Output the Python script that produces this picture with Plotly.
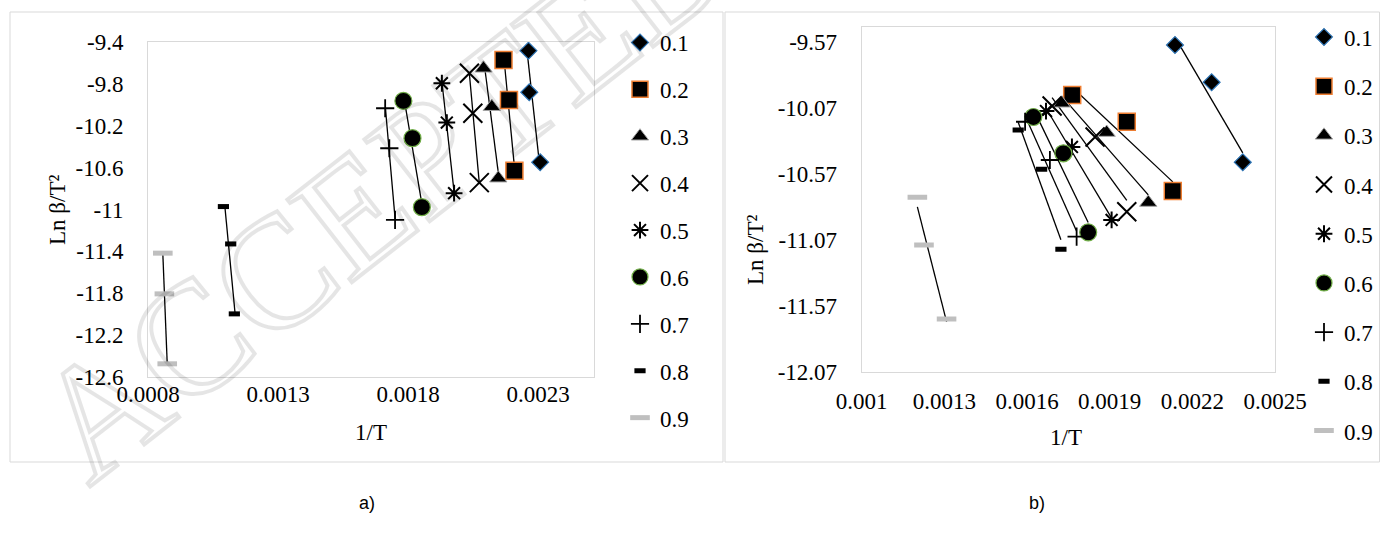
import numpy as np
import plotly.graph_objects as go

W, H = 1380, 535

series_names = ["0.1", "0.2", "0.3", "0.4", "0.5", "0.6", "0.7", "0.8", "0.9"]

# ---------------- Panel a) data ----------------
a_x_01 = [0.002263, 0.002266, 0.002308]
a_y_01 = [-9.483, -9.880, -10.548]
a_x_02 = [0.002167, 0.002188, 0.002209]
a_y_02 = [-9.572, -9.954, -10.629]
a_x_03 = [0.002090, 0.002122, 0.002147]
a_y_03 = [-9.651, -10.018, -10.701]
a_x_04 = [0.002036, 0.002049, 0.002074]
a_y_04 = [-9.699, -10.081, -10.743]
a_x_05 = [0.001930, 0.001949, 0.001977]
a_y_05 = [-9.794, -10.170, -10.844]
a_x_06 = [0.001782, 0.001817, 0.001853]
a_y_06 = [-9.963, -10.319, -10.978]
a_x_07 = [0.001712, 0.001728, 0.001750]
a_y_07 = [-10.033, -10.415, -11.099]
a_x_08 = [0.001090, 0.001118, 0.001132]
a_y_08 = [-10.972, -11.329, -11.997]
a_x_09 = [0.000857, 0.000863, 0.000874]
a_y_09 = [-11.417, -11.806, -12.474]

# ---------------- Panel b) data ----------------
b_x_01 = [0.002137, 0.002270, 0.002383]
b_y_01 = [-9.593, -9.875, -10.481]
b_x_02 = [0.001764, 0.001962, 0.002129]
b_y_02 = [-9.971, -10.174, -10.699]
b_x_03 = [0.001726, 0.001889, 0.002040]
b_y_03 = [-10.034, -10.256, -10.786]
b_x_04 = [0.001691, 0.001847, 0.001962]
b_y_04 = [-10.055, -10.290, -10.856]
b_x_05 = [0.001669, 0.001763, 0.001907]
b_y_05 = [-10.093, -10.365, -10.918]
b_x_06 = [0.001623, 0.001732, 0.001822]
b_y_06 = [-10.138, -10.413, -11.012]
b_x_07 = [0.001593, 0.001683, 0.001780]
b_y_07 = [-10.174, -10.464, -11.045]
b_x_08 = [0.001568, 0.001653, 0.001723]
b_y_08 = [-10.237, -10.534, -11.140]
b_x_09 = [0.001202, 0.001226, 0.001308]
b_y_09 = [-10.747, -11.108, -11.668]

# ---------------- ticks ----------------
a_xtick_vals = [0.0008, 0.0013, 0.0018, 0.0023]
a_xtick_text = ["0.0008", "0.0013", "0.0018", "0.0023"]
a_ytick_vals = [-9.4, -9.8, -10.2, -10.6, -11.0, -11.4, -11.8, -12.2, -12.6]
a_ytick_text = ["-9.4", "-9.8", "-10.2", "-10.6", "-11", "-11.4", "-11.8", "-12.2", "-12.6"]
b_xtick_vals = [0.0010, 0.0013, 0.0016, 0.0019, 0.0022, 0.0025]
b_xtick_text = ["0.001", "0.0013", "0.0016", "0.0019", "0.0022", "0.0025"]
b_ytick_vals = [-9.57, -10.07, -10.57, -11.07, -11.57, -12.07]
b_ytick_text = ["-9.57", "-10.07", "-10.57", "-11.07", "-11.57", "-12.07"]

panel_a = list(zip(series_names,
                   [a_x_01, a_x_02, a_x_03, a_x_04, a_x_05, a_x_06, a_x_07, a_x_08, a_x_09],
                   [a_y_01, a_y_02, a_y_03, a_y_04, a_y_05, a_y_06, a_y_07, a_y_08, a_y_09]))
panel_b = list(zip(series_names,
                   [b_x_01, b_x_02, b_x_03, b_x_04, b_x_05, b_x_06, b_x_07, b_x_08, b_x_09],
                   [b_y_01, b_y_02, b_y_03, b_y_04, b_y_05, b_y_06, b_y_07, b_y_08, b_y_09]))

# marker styles per series
STYLES = [
    dict(symbol="diamond", size=13, color="black", line=dict(color="#2e75b6", width=1.2)),
    dict(symbol="square", size=17, color="black", line=dict(color="#ed7d31", width=1.5)),
    dict(symbol="triangle-up", size=15, color="black", line=dict(color="#a5a5a5", width=1)),
    dict(symbol="x-thin-open", size=19, color="black", line=dict(color="black", width=2)),
    dict(symbol="asterisk-open", size=14, color="black", line=dict(color="black", width=2)),
    dict(symbol="circle", size=17, color="black", line=dict(color="#70ad47", width=1.2)),
    dict(symbol="cross-thin-open", size=13, color="black", line=dict(color="black", width=1.8)),
    dict(symbol="line-ew-open", size=8, color="black", line=dict(color="black", width=5)),
    dict(symbol="line-ew-open", size=14, color="#bfbfbf", line=dict(color="#bfbfbf", width=5)),
]

FONT = "Liberation Serif"


def fit_segment(xs, ys, along_y):
    xs = np.asarray(xs, float)
    ys = np.asarray(ys, float)
    if along_y:
        b, a = np.polyfit(ys, xs, 1)
        ye = np.array([ys.max(), ys.min()])
        return b * ye + a, ye
    b, a = np.polyfit(xs, ys, 1)
    xe = np.array([xs.min(), xs.max()])
    return xe, b * xe + a


fig = go.Figure()

for panel, xa, ya, leg, along_y in [(panel_a, "x", "y", "legend", True),
                                      (panel_b, "x2", "y2", "legend2", False)]:
    for name, xs, ys in panel:
        lx, ly = fit_segment(xs, ys, along_y)
        fig.add_trace(go.Scatter(x=lx, y=ly, mode="lines", xaxis=xa, yaxis=ya,
                                 line=dict(color="black", width=1.3),
                                 showlegend=False, hoverinfo="skip"))
    for (name, xs, ys), st in zip(panel, STYLES):
        fig.add_trace(go.Scatter(x=xs, y=ys, mode="markers", name=name,
                                 xaxis=xa, yaxis=ya, legend=leg,
                                 legendgroup=leg + name,
                                 marker=st))

axis_common = dict(showgrid=False, zeroline=False, showline=True, mirror=True,
                   linecolor="#d9d9d9", linewidth=1, ticks="",
                   tickfont=dict(family=FONT, size=23, color="black"))

fig.update_layout(
    width=W, height=H,
    margin=dict(l=0, r=0, t=0, b=0, autoexpand=False),
    paper_bgcolor="white", plot_bgcolor="white",
    font=dict(family=FONT, size=23, color="black"),
    xaxis=dict(domain=[148 / W, 594 / W], range=[0.0008, 0.002515], anchor="y",
               tickmode="array", tickvals=a_xtick_vals, ticktext=a_xtick_text,
               ticklabelstandoff=-4, **axis_common),
    yaxis=dict(domain=[1 - 377 / H, 1 - 42 / H], range=[-12.6, -9.4], anchor="x",
               tickmode="array", tickvals=a_ytick_vals, ticktext=a_ytick_text,
               ticklabelstandoff=19, **axis_common),
    xaxis2=dict(domain=[861.7 / W, 1275 / W], range=[0.0010, 0.0025], anchor="y2",
                tickmode="array", tickvals=b_xtick_vals, ticktext=b_xtick_text,
                ticklabelstandoff=8, **axis_common),
    yaxis2=dict(domain=[1 - 372 / H, 1 - 26.7 / H], range=[-12.07, -9.454], anchor="x2",
                tickmode="array", tickvals=b_ytick_vals, ticktext=b_ytick_text,
                ticklabelstandoff=19, **axis_common),
    legend=dict(x=620 / W, y=1 - 21 / H, xanchor="left", yanchor="top",
                traceorder="grouped", tracegroupgap=14, bgcolor="rgba(0,0,0,0)",
                font=dict(family=FONT, size=23, color="black")),
    legend2=dict(x=1304 / W, y=1 - 15.5 / H, xanchor="left", yanchor="top",
                 traceorder="grouped", tracegroupgap=16.3, bgcolor="rgba(0,0,0,0)",
                 font=dict(family=FONT, size=23, color="black")),
    showlegend=True,
)

# outer chart frames
for x0, x1 in [(10, 723), (725, 1379.5)]:
    fig.add_shape(type="rect", xref="paper", yref="paper",
                  x0=x0 / W, x1=x1 / W, y0=1 - 462 / H, y1=1 - 12 / H,
                  line=dict(color="#d9d9d9", width=1), fillcolor="rgba(0,0,0,0)",
                  layer="below")

ann_font = dict(family=FONT, size=23, color="black")
common_ann = dict(xref="paper", yref="paper", showarrow=False,
                  xanchor="center", yanchor="middle")
fig.add_annotation(text="Ln β/T²", x=57 / W, y=1 - 210 / H, textangle=-90,
                   font=ann_font, **common_ann)
fig.add_annotation(text="Ln β/T²", x=755 / W, y=1 - 250 / H, textangle=-90,
                   font=ann_font, **common_ann)
fig.add_annotation(text="1/T", x=371 / W, y=1 - 432 / H, font=ann_font, **common_ann)
fig.add_annotation(text="1/T", x=1066 / W, y=1 - 437 / H, font=ann_font, **common_ann)
fig.add_annotation(text="a)", x=367 / W, y=1 - 503 / H,
                   font=dict(family="Liberation Sans", size=18, color="black"), **common_ann)
fig.add_annotation(text="b)", x=1037 / W, y=1 - 503 / H,
                   font=dict(family="Liberation Sans", size=18, color="black"), **common_ann)

# watermark (outlined light-grey lettering)
fig.add_annotation(text="ACCEPTED", x=382 / W, y=1 - 190 / H, textangle=-38,
                   font=dict(family=FONT, size=160, color="rgba(0,0,0,0.06)"),
                   **common_ann)

post = """
var gd = document.getElementById('{plot_id}');
gd.querySelectorAll('text.annotation-text').forEach(function(t){
  if (t.textContent.indexOf('ACCEPTED') === 0) {
    t.style.fill = 'none';
    t.style.stroke = 'rgba(0,0,0,0.1)';
    t.style.strokeWidth = '4px';
  }
});
"""

fig.write_html("out.html", post_script=post)
